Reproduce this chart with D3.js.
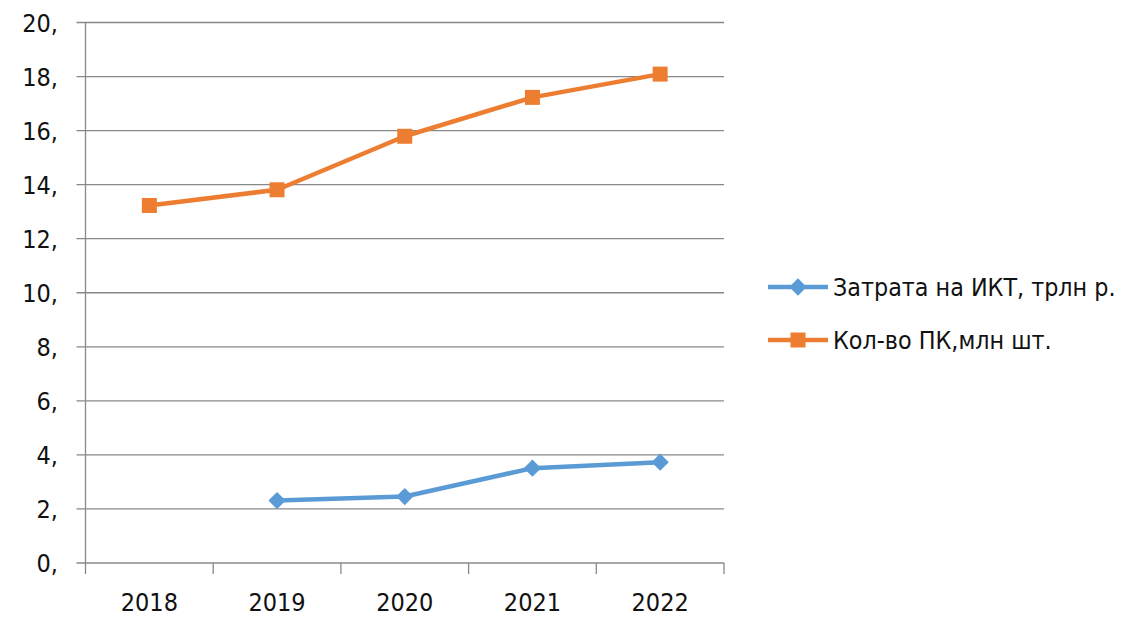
<!DOCTYPE html>
<html><head><meta charset="utf-8">
<script src="https://cdn.jsdelivr.net/npm/d3@7"></script>
<style>
html,body{margin:0;padding:0;background:#fff;}
text{font-family:"Liberation Sans Narrow","DejaVu Sans Condensed","Liberation Sans",sans-serif;fill:#111;}
</style></head>
<body>
<svg id="c" width="1129" height="628"></svg>
<script>
const categories = ["2018","2019","2020","2021","2022"];
const ictCost = [null, 2.31, 2.46, 3.51, 3.73];
const pcCount = [13.23, 13.81, 15.79, 17.23, 18.09];
const yTicks = [0,2,4,6,8,10,12,14,16,18,20];
const yTickLabels = ["0,","2,","4,","6,","8,","10,","12,","14,","16,","18,","20,"];
const seriesNames = ["Затрата на ИКТ, трлн р.","Кол-во ПК,млн шт."];
const colors = ["#5B9BD5","#ED7D31"];

const svg = d3.select("#c");
const L = 85.5, R = 724, T = 22.5, B = 563;
const x = d3.scaleBand().domain(categories).range([L, R]);
const y = d3.scaleLinear().domain([0,20]).range([B, T]);

svg.append("g").selectAll("line").data(yTicks).join("line")
  .attr("x1", L-9).attr("x2", R).attr("y1", d=>y(d)).attr("y2", d=>y(d))
  .attr("stroke","#888").attr("stroke-width",1.3);
svg.append("line").attr("x1",L).attr("x2",L).attr("y1",T).attr("y2",B+11)
  .attr("stroke","#888").attr("stroke-width",1.3);
const bounds = categories.map(c=>x(c)).concat([R]);
svg.append("g").selectAll("line").data(bounds.slice(1)).join("line")
  .attr("x1",d=>d).attr("x2",d=>d).attr("y1",B).attr("y2",B+11)
  .attr("stroke","#888").attr("stroke-width",1.3);
svg.append("g").selectAll("text").data(yTicks).join("text")
  .attr("x", 58).attr("y", d=>y(d)).attr("dy","0.36em")
  .attr("text-anchor","end").attr("font-size",25)
  .text((d,i)=>yTickLabels[i]);
svg.append("g").selectAll("text").data(categories).join("text")
  .attr("x", d=>x(d)+x.bandwidth()/2).attr("y", 602).attr("dy","0.36em")
  .attr("text-anchor","middle").attr("font-size",25).text(d=>d);

const line = d3.line().defined(d=>d.v!=null).x(d=>x(d.c)+x.bandwidth()/2).y(d=>y(d.v));
const data = [ictCost, pcCount].map(arr=>arr.map((v,i)=>({c:categories[i], v})));

data.forEach((s,k)=>{
  svg.append("path").datum(s).attr("d", line).attr("fill","none")
    .attr("stroke", colors[k]).attr("stroke-width",4.5).attr("stroke-linejoin","round");
  const pts = s.filter(d=>d.v!=null);
  if(k===0){
    svg.append("g").selectAll("path").data(pts).join("path")
      .attr("d", d3.symbol(d3.symbolDiamond2, 190)())
      .attr("transform", d=>`translate(${x(d.c)+x.bandwidth()/2},${y(d.v)})`)
      .attr("fill", colors[k]);
  } else {
    svg.append("g").selectAll("rect").data(pts).join("rect")
      .attr("x", d=>x(d.c)+x.bandwidth()/2-7.5).attr("y", d=>y(d.v)-7.5)
      .attr("width",15).attr("height",15).attr("fill", colors[k]);
  }
});

const ly = [287, 340];
seriesNames.forEach((n,k)=>{
  const g = svg.append("g");
  g.append("line").attr("x1",768).attr("x2",828).attr("y1",ly[k]).attr("y2",ly[k])
    .attr("stroke",colors[k]).attr("stroke-width",4.5);
  if(k===0){
    g.append("path").attr("d", d3.symbol(d3.symbolDiamond2,190)())
      .attr("transform",`translate(798,${ly[k]})`).attr("fill",colors[k]);
  } else {
    g.append("rect").attr("x",790.5).attr("y",ly[k]-7.5).attr("width",15).attr("height",15).attr("fill",colors[k]);
  }
  g.append("text").attr("x",833).attr("y",ly[k]).attr("dy","0.36em")
    .attr("font-size",24.8).text(n);
});
</script>
</body></html>
